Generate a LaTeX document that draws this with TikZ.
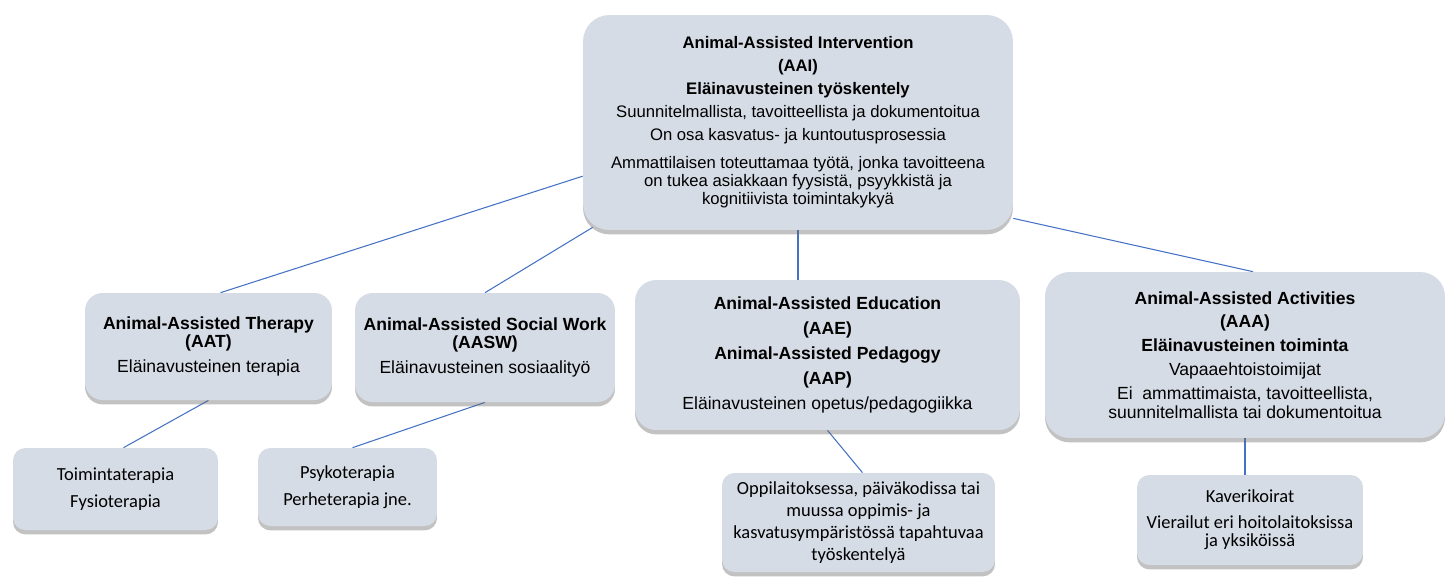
\documentclass[tikz,border=0pt]{standalone}
\usepackage{fontspec}
\setmainfont{Liberation Sans}
\newfontfamily\carlito{Carlito}
\usepackage{xcolor}
\usepackage{tikz}
\usetikzlibrary{positioning, calc, backgrounds, shadows}

\definecolor{boxfill}{RGB}{214,220,229}
\definecolor{linkblue}{RGB}{68,114,196}

\begin{document}
\begin{tikzpicture}[
    x=0.02cm, y=-0.02cm,
    box/.style={rectangle, rounded corners=10pt, fill=boxfill, align=center, inner sep=0pt,
      drop shadow={shadow xshift=0pt, shadow yshift=-2.5pt, opacity=0.4, fill=black!60}},
    upper/.style={box, font=\fontsize{10}{10.5}\selectfont},
    lower/.style={box, rounded corners=7pt, font=\carlito\fontsize{10.5}{12}\selectfont},
    link/.style={draw=linkblue, line width=0.6pt}
  ]
  \useasboundingbox (0,0) rectangle (1456,576);

  \node[upper, rounded corners=15pt, minimum width=8.6cm, minimum height=4.3cm,
        font=\fontsize{9.5}{10.2}\selectfont] (aai) at (798,122.5)
    {\textbf{Animal-Assisted Intervention}\\[2.8pt]\textbf{(AAI)}\\[2.8pt]\textbf{Eläinavusteinen työskentely}\\[2.8pt]
     Suunnitelmallista, tavoitteellista ja dokumentoitua\\[2.8pt]On osa kasvatus- ja kuntoutusprosessia\\[6pt]
     Ammattilaisen toteuttamaa työtä, jonka tavoitteena\\on tukea asiakkaan fyysistä, psyykkistä ja\\kognitiivista toimintakykyä};

  \node[upper, minimum width=4.94cm, minimum height=2.14cm] (aat) at (208.5,346.5)
    {\textbf{Animal-Assisted Therapy}\\\textbf{(AAT)}\\[3.7pt]Eläinavusteinen terapia};
  \node[upper, minimum width=5.2cm, minimum height=2.18cm] (aasw) at (485,347.5)
    {\textbf{Animal-Assisted Social Work}\\\textbf{(AASW)}\\[3.7pt]Eläinavusteinen sosiaalityö};
  \node[upper, rounded corners=12pt, minimum width=7.7cm, minimum height=3cm] (aae) at (827.5,355)
    {\textbf{Animal-Assisted Education}\\[3.7pt]\textbf{(AAE)}\\[3.7pt]\textbf{Animal-Assisted Pedagogy}\\[3.7pt]
     \textbf{(AAP)}\\[3.7pt]Eläinavusteinen opetus/pedagogiikka};
  \node[upper, rounded corners=14pt, minimum width=8cm, minimum height=3.32cm,
        font=\fontsize{10}{11}\selectfont] (aaa) at (1245,355)
    {\textbf{Animal-Assisted Activities}\\[2.5pt]\textbf{(AAA)}\\[2.5pt]\textbf{Eläinavusteinen toiminta}\\[2.5pt]
     Vapaaehtoistoimijat\\[2.5pt]Ei\ \ ammattimaista, tavoitteellista,\\suunnitelmallista tai dokumentoitua};

  \node[lower, minimum width=4.1cm, minimum height=1.64cm] (toim) at (115.5,489)
    {Toimintaterapia\\[3.5pt]Fysioterapia};
  \node[lower, minimum width=3.58cm, minimum height=1.56cm] (psyk) at (347.5,487)
    {Psykoterapia\\[3.5pt]Perheterapia jne.};
  \node[lower, minimum width=5.46cm, minimum height=1.98cm,
        font=\carlito\fontsize{10.5}{12.6}\selectfont] (oppi) at (858.5,522.5)
    {Oppilaitoksessa, päiväkodissa tai\\muussa oppimis- ja\\kasvatusympäristössä tapahtuvaa\\työskentelyä};
  \node[lower, minimum width=4.52cm, minimum height=1.8cm,
        font=\carlito\fontsize{10.5}{10.5}\selectfont] (kav) at (1250,520)
    {Kaverikoirat\\[4pt]Vierailut eri hoitolaitoksissa\\ja yksiköissä};

  \begin{scope}[on background layer]
    \draw[link] (aai.194) -- ($(aat.north)+(12,0)$);
    \draw[link] ($(aai.south west)+(10,-3)$) -- (aasw.north);
    \draw[link] (aai.south) -- (aai.south |- aae.north);
    \draw[link] (aai.336) -- ($(aaa.north)+(8,0)$);
    \draw[link] (aat.south) -- ($(toim.north)+(8,0)$);
    \draw[link] (aasw.south) -- ($(psyk.north)+(5,0)$);
    \draw[link] (aae.south) -- ($(oppi.north)+(4,0)$);
    \draw[link] (aaa.south) -- (aaa.south |- kav.north);
  \end{scope}
\end{tikzpicture}
\end{document}
